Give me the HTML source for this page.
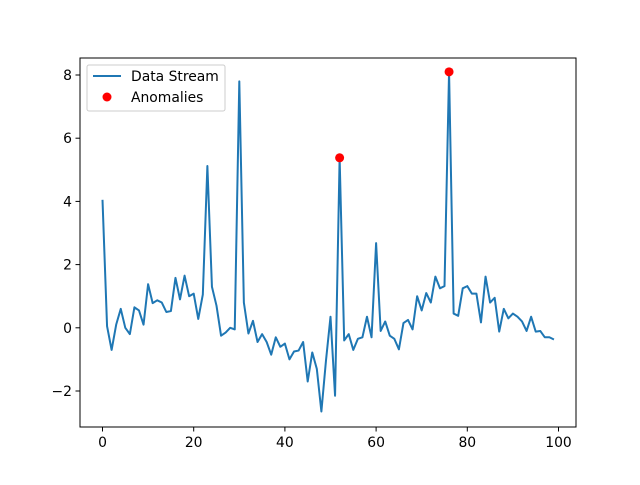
<!DOCTYPE html>
<html><head><meta charset="utf-8"><style>body{margin:0;background:#fff}svg text{font-family:"DejaVu Sans","Liberation Sans",sans-serif;font-size:13.9px;fill:#000}</style></head>
<body>
<svg id="chart" width="640" height="480" xmlns="http://www.w3.org/2000/svg">
<rect width="640" height="480" fill="#fff"/>
<g id="plot"></g>
</svg>
<script>
const values=[4.05,0.05,-0.7,0.1,0.6,0.0,-0.2,0.65,0.55,0.1,1.38,0.78,0.87,0.8,0.5,0.53,1.58,0.9,1.65,1.0,1.08,0.28,1.05,5.12,1.3,0.7,-0.25,-0.15,0.0,-0.05,7.8,0.8,-0.18,0.22,-0.45,-0.2,-0.45,-0.85,-0.3,-0.6,-0.5,-1.0,-0.75,-0.72,-0.45,-1.7,-0.78,-1.3,-2.65,-1.05,0.35,-2.15,5.38,-0.4,-0.2,-0.7,-0.35,-0.3,0.35,-0.3,2.68,-0.1,0.2,-0.25,-0.35,-0.68,0.15,0.25,-0.05,1.0,0.55,1.1,0.8,1.62,1.25,1.32,8.1,0.45,0.38,1.25,1.32,1.08,1.08,0.17,1.62,0.8,0.95,-0.12,0.6,0.3,0.45,0.35,0.2,-0.1,0.35,-0.12,-0.1,-0.3,-0.3,-0.37];
const anomalyIdx=[52,76];
const xTicks=[0,20,40,60,80,100];
const yTicks=[-2,0,2,4,6,8];
const L=80,R=576,T=58,B=427;
const sx=v=>102.5+v*4.56;
const sy=v=>327.8-v*31.6;
const NS="http://www.w3.org/2000/svg";
const g=document.getElementById('plot');
function mk(t,a){const e=document.createElementNS(NS,t);for(const k in a)e.setAttribute(k,a[k]);g.appendChild(e);return e;}
const line=mk('polyline',{points:values.map((v,i)=>sx(i)+','+sy(v)).join(' '),fill:'none',stroke:'#1f77b4','stroke-width':2,'stroke-linejoin':'round'});


anomalyIdx.forEach(i=>{const c=mk('circle',{cx:sx(i),cy:sy(values[i]),r:4.5,fill:'red'});

});
const ax=mk('rect',{x:L,y:T,width:R-L,height:B-T,fill:'none',stroke:'#000','stroke-width':1});


xTicks.forEach(t=>{mk('line',{x1:sx(t),x2:sx(t),y1:B,y2:B+4.5,stroke:'#000','stroke-width':1});
const tx=mk('text',{x:sx(t),y:B+20,'text-anchor':'middle'});tx.textContent=t;

});
yTicks.forEach(t=>{mk('line',{x1:L-4.5,x2:L,y1:sy(t),y2:sy(t),stroke:'#000','stroke-width':1});
const tx=mk('text',{x:L-8,y:sy(t)+5,'text-anchor':'end'});tx.textContent=(t<0?'\u2212'+(-t):t);

});
const lg=mk('rect',{x:87,y:65,width:138,height:46,rx:2,fill:'#fff','fill-opacity':0.8,stroke:'#ccc','stroke-width':1});


mk('line',{x1:93,x2:121,y1:76,y2:76,stroke:'#1f77b4','stroke-width':2});
const t1=mk('text',{x:131,y:81});t1.textContent='Data Stream';


mk('circle',{cx:107,cy:97,r:4.5,fill:'red'});
const t2=mk('text',{x:131,y:102});t2.textContent='Anomalies';


</script>
</body></html>
